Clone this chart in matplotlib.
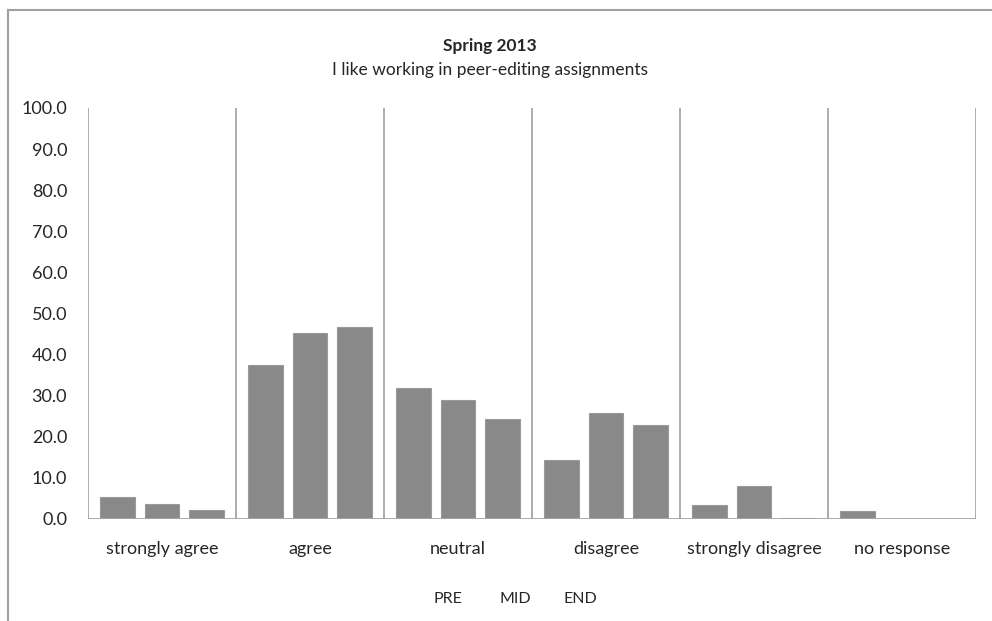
import matplotlib
matplotlib.use('Agg')
import matplotlib.pyplot as plt
from matplotlib.lines import Line2D
import numpy as np

plt.rcParams['font.family'] = ['Lato', 'DejaVu Sans']

categories = ['strongly agree', 'agree', 'neutral', 'disagree',
              'strongly disagree', 'no response']
series = ['PRE', 'MID', 'END']
pre = [5.4, 37.5, 31.9, 14.3, 3.4, 1.9]
mid = [3.6, 45.2, 29.0, 25.8, 8.0, 0.0]
end = [2.2, 46.7, 24.3, 22.9, 0.3, 0.0]
y_ticks = [0, 10, 20, 30, 40, 50, 60, 70, 80, 90, 100]

BAR = '#898989'
GRID = '#a6a6a6'
TEXT = '#262626'

fig = plt.figure(figsize=(9.92, 6.21), dpi=100)
ax = fig.add_axes([0.0887, 0.1643, 0.8952, 0.6618])

x = np.arange(len(categories))
offsets = [-0.30, 0.0, 0.30]
for vals, off in zip([pre, mid, end], offsets):
    ax.bar(x + off, vals, width=0.235, color=BAR, edgecolor='#9a9a9a',
           linewidth=0.8, zorder=3)

ax.set_xlim(-0.5, len(categories) - 0.5)
ax.set_ylim(0, 100)

# separators between the answer groups
for b in np.arange(-0.5, len(categories), 1.0):
    ax.axvline(b, color=GRID, linewidth=1.3, zorder=1)
ax.axhline(0, color=GRID, linewidth=1.3, zorder=4)

for s in ax.spines.values():
    s.set_visible(False)

ax.set_yticks(y_ticks)
ax.set_yticklabels([f'{v:.1f}' for v in y_ticks])
ax.set_xticks(x)
ax.set_xticklabels(categories)
ax.tick_params(axis='both', length=0, labelsize=13, colors=TEXT)
ax.tick_params(axis='y', pad=15)
ax.tick_params(axis='x', pad=16)

fig.text(0.494, 0.926, 'Spring 2013', ha='center', va='center',
         fontsize=12.5, fontweight='bold', color=TEXT)
fig.text(0.494, 0.887, 'I like working in peer-editing assignments',
         ha='center', va='center', fontsize=12.5, color=TEXT)

# legend entries (no swatches)
for name, xp in zip(series, [0.452, 0.519, 0.585]):
    fig.text(xp, 0.036, name, ha='center', va='center', fontsize=11.5, color=TEXT)

# chart frame
fig.add_artist(Line2D([0.008, 1.0], [0.984, 0.984], color='#a0a0a0',
                      linewidth=1.5, transform=fig.transFigure))
fig.add_artist(Line2D([0.008, 0.008], [0.0, 0.984], color='#a0a0a0',
                      linewidth=1.5, transform=fig.transFigure))

fig.savefig('out.png', dpi=100)
